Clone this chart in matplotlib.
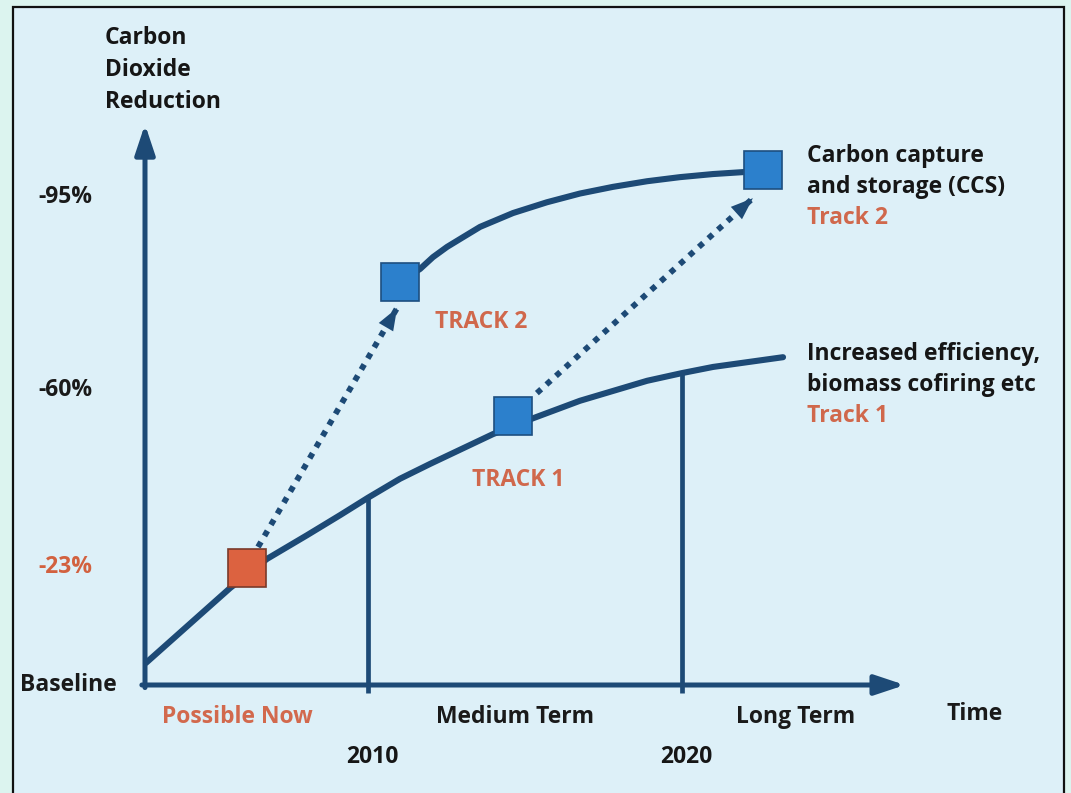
import matplotlib.pyplot as plt
from matplotlib.patches import Rectangle
import numpy as np

# time axis in years, reduction in percent
track1_year = [2002.93, 2005.61, 2006.79, 2008.06, 2009.11, 2010.0, 2011.02,
               2011.98, 2013.98, 2015.26, 2016.75, 2018.89, 2020.0, 2020.99,
               2023.22]
track1_pct = [4.3, 18.9, 24.6, 29.2, 33.1, 36.5, 40.2,
              43.1, 48.9, 52.0, 55.4, 59.3, 60.8, 62.0,
              63.9]

track2_year = [2011.02, 2011.66, 2012.07, 2012.52, 2013.03, 2013.57, 2014.62,
               2015.7, 2016.75, 2017.8, 2018.89, 2019.94, 2020.99, 2022.0, 2022.58]
track2_pct = [78.6, 81.1, 83.4, 85.4, 87.3, 89.3, 92.0,
              94.1, 95.8, 97.1, 98.2, 99.0, 99.6, 100.0, 100.4]

# squares: (year, pct)
now_point = (2006.15, 22.9)
blue_points_year = [2014.62, 2011.02, 2022.58]
blue_points_pct = [52.4, 78.6, 100.4]

# dotted jumps from track 1 to track 2
jump_start_year = [2006.5, 2015.38]
jump_start_pct = [26.9, 56.9]
jump_end_year = [2010.93, 2022.26]
jump_end_pct = [73.5, 94.9]

origin = (2002.9, 0.0)
x_axis_end = 2027.1
y_axis_end = 109.3
milestones = [2010, 2020]

ytick_pos = [95.1, 57.5, 23.0, 0.0]
ytick_labels = ['-95%', '-60%', '-23%', 'Baseline']
ytick_colors = ['#1a1a1a', '#1a1a1a', '#d2613f', '#1a1a1a']

period_labels = ['Possible Now', 'Medium Term', 'Long Term', 'Time']
period_x = [237, 515, 796, 975]  # pixel centres
period_y = [717, 717, 717, 714]
period_colors = ['#d2694d', '#1a1a1a', '#1a1a1a', '#1a1a1a']

W, H = 1071, 793
navy = '#1d4a76'
blue = '#2c80cc'
red = '#dc6240'
orange = '#d0684c'
ink = '#161616'
font = 'Open Sans'

fig = plt.figure(figsize=(W / 100, H / 100), dpi=100)
fig.patch.set_facecolor('#dcf4ef')
fig.patches.append(Rectangle((13 / W, -0.1), (1064 - 13) / W, 1.1 - 7 / H,
                             transform=fig.transFigure, facecolor='#ddf0f8',
                             edgecolor='#111111', linewidth=1.6, zorder=-5))

ax = fig.add_axes([0, 0, 1, 1])
ax.set_facecolor('none')
ax.set_xlim(2002.9 - 145 / 31.4, 2002.9 + 926 / 31.4)
ax.set_ylim((685 - H) / 5.13, 685 / 5.13)
ax.axis('off')

# axes with arrow heads
ax.annotate('', xy=(x_axis_end, origin[1]), xytext=(origin[0] - 0.1, origin[1]),
            arrowprops=dict(arrowstyle='-|>,head_length=0.9,head_width=0.3',
                            mutation_scale=20, color=navy, lw=3.6,
                            shrinkA=0, shrinkB=0))
ax.annotate('', xy=(origin[0], y_axis_end), xytext=(origin[0], origin[1] - 0.5),
            arrowprops=dict(arrowstyle='-|>,head_length=0.9,head_width=0.3',
                            mutation_scale=20, color=navy, lw=3.6,
                            shrinkA=0, shrinkB=0))

# milestone verticals up to track 1
for yr in milestones:
    top = track1_pct[track1_year.index(float(yr))]
    ax.plot([yr, yr], [-1.6, top], color=navy, lw=3.4, solid_capstyle='butt')

ax.plot(track1_year, track1_pct, color=navy, lw=4.4, solid_capstyle='round',
        solid_joinstyle='round', zorder=3)
ax.plot(track2_year, track2_pct, color=navy, lw=4.4, solid_capstyle='round',
        solid_joinstyle='round', zorder=3)

for sx, sy, ex, ey in zip(jump_start_year, jump_start_pct, jump_end_year, jump_end_pct):
    ax.plot([sx, ex], [sy, ey], color=navy, lw=4.2,
            linestyle=(0, (1.0, 1.2)), dash_capstyle='butt', zorder=2)
    ax.annotate('', xy=(ex, ey), xytext=(sx, sy),
                arrowprops=dict(arrowstyle='-|>,head_length=0.8,head_width=0.3',
                                mutation_scale=20, color=navy, lw=0,
                                shrinkA=0, shrinkB=0), zorder=2)

ax.plot(*now_point, marker='s', markersize=27, color=red,
        markeredgecolor='#7a3a2a', markeredgewidth=1.2, zorder=5)
ax.plot(blue_points_year, blue_points_pct, 's', markersize=27, color=blue,
        markeredgecolor='#1d4f80', markeredgewidth=1.2, zorder=5)


def fx(x):
    return x / W


def fy(y):
    return 1 - y / H


txt = dict(family=font, fontweight='bold', fontsize=16.5)

for i, line in enumerate(['Carbon', 'Dioxide', 'Reduction']):
    fig.text(fx(105), fy(38 + 32 * i), line, color=ink, ha='left', va='center', **txt)

for pos, lab, col in zip(ytick_pos, ytick_labels, ytick_colors):
    fig.text(fx(38 if lab != 'Baseline' else 20), fy(685 - pos * 5.13), lab,
             color=col, ha='left', va='center', **txt)

for x, y, lab, col in zip(period_x, period_y, period_labels, period_colors):
    fig.text(fx(x), fy(y), lab, color=col, ha='center', va='center', **txt)

for yr in milestones:
    ax.text(yr + 0.15, (685 - 757) / 5.13, str(yr), color=ink, ha='center',
            va='center', **txt)

fig.text(fx(481), fy(322), 'TRACK 2', color=orange, ha='center', va='center', **txt)
fig.text(fx(518), fy(480), 'TRACK 1', color=orange, ha='center', va='center', **txt)

right_lines = [('Carbon capture', ink, 156), ('and storage (CCS)', ink, 187),
               ('Track 2', orange, 218),
               ('Increased efficiency,', ink, 354), ('biomass cofiring etc', ink, 385),
               ('Track 1', orange, 416)]
for lab, col, y in right_lines:
    fig.text(fx(807), fy(y), lab, color=col, ha='left', va='center', **txt)

fig.savefig('out.png', dpi=100)
